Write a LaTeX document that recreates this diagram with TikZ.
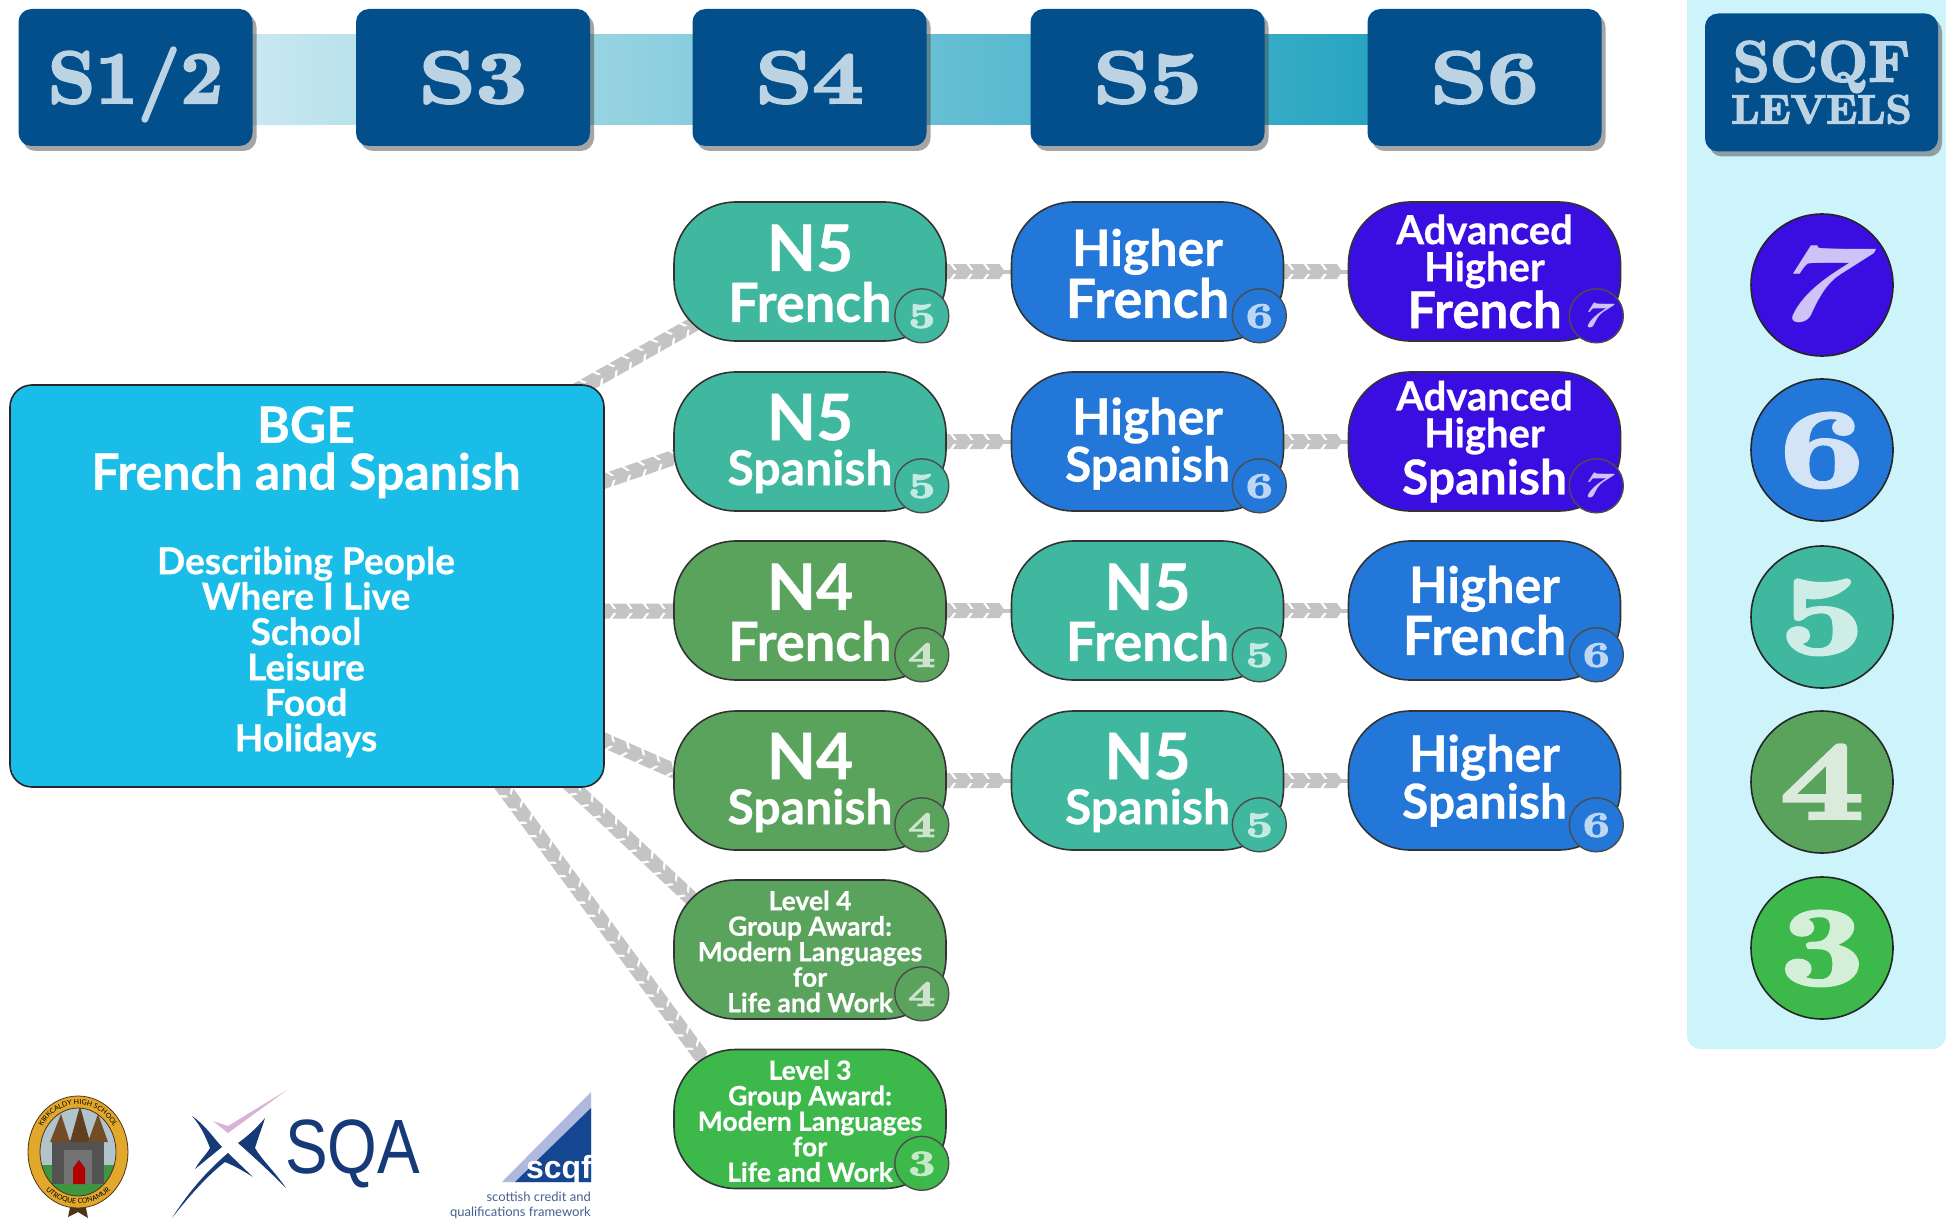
\documentclass[tikz,border=0pt]{standalone}
\usepackage{fontspec}
\usepackage{graphicx}
\setsansfont{Lato}[BoldFeatures={FakeBold=0.6}]
\newfontfamily\plainsans{Lato}
\newfontfamily\logofont{Liberation Sans}
\newfontfamily\fat{lmroman10-bold.otf}[FakeBold=3]
\newfontfamily\fatsl{lmroman10-bold.otf}[FakeSlant=0.35]
\usetikzlibrary{calc,shadows,decorations.markings,decorations.text}
\pgfdeclarelayer{background}
\pgfsetlayers{background,main}
\definecolor{hdr}{HTML}{024F8C}
\definecolor{hdrtxt}{HTML}{BCD3E4}
\definecolor{panel}{HTML}{CDF3FB}
\definecolor{bgec}{HTML}{1ABDE8}
\definecolor{lvseven}{HTML}{3A0EE0}
\definecolor{lvsix}{HTML}{2277D8}
\definecolor{lvfive}{HTML}{3FB89F}
\definecolor{lvfour}{HTML}{59A35C}
\definecolor{lvthree}{HTML}{3DB84A}
\definecolor{chevgrey}{HTML}{C4C4C4}
\definecolor{navy}{HTML}{163A78}
\definecolor{bandl}{HTML}{C8E8F0}
\definecolor{bandr}{HTML}{28A5C2}
\definecolor{gold}{HTML}{E2A82C}
\definecolor{lilac}{HTML}{AFB9DE}
\definecolor{scqfblue}{HTML}{144691}
\newcommand\tsz[2]{\fontsize{#1}{#2}\selectfont}
\newcommand\szz[2]{{\tsz{#1}{#1}#2}}
\newcommand\sz[2]{{\tsz{#1}{#1}\raisebox{-2pt}[\height][\depth]{#2}}}
\newcommand\hdwide[1]{\scalebox{1.2}[1]{#1}}
\newcommand\digwide[1]{\scalebox{1.3}[1]{#1}}
\newcommand\tightlines{\lineskiplimit-1000pt\relax}
\tikzset{
  x=1pt,y=-1pt,
  lh/.style={font={\sffamily\bfseries\fontsize{10}{#1}\selectfont\tightlines}},
  headbox/.style={fill=hdr,rounded corners=13,minimum width=234,minimum height=137,inner sep=0,
    drop shadow={shadow xshift=4pt,shadow yshift=-5pt,opacity=.5,fill=black!70},
    text=hdrtxt},
  header/.style={headbox,font=\fat\tsz{74}{74},text height=51pt,text depth=0pt},
  pill/.style={draw=black!80,line width=1.6pt,rounded corners=62,minimum width=272,minimum height=139,
    inner sep=0,text=white,align=center},
  badge/.style={circle,draw=black!70,line width=1.4pt,minimum size=54,inner sep=0,font=\fat\tsz{36}{36},text height=24pt,text depth=0pt},
  level/.style={circle,draw=black!85,line width=1.6pt,minimum size=142,inner sep=0,font=\fat\tsz{112}{112},text height=73pt,text depth=0pt},
  chev/.style={line width=4pt,chevgrey,postaction={decorate},
    decoration={markings,mark=between positions 0 and 1 step 16.5pt with
      {\fill[chevgrey] (-10.5,-7.5)--(3,-7.5)--(8.5,0)--(3,7.5)--(-10.5,7.5)--(-5,0)--cycle;}}},
}
\begin{document}
\begin{tikzpicture}
\useasboundingbox (0,0) rectangle (1946,1220);
% headers
\node[header] (s12) at (135.5,77.5) {S1/2};
\node[header] (s3) at (473,77.5) {\hdwide{S3}};
\node[header] (s4) at (809.5,77.5) {\hdwide{S4}};
\node[header] (s5) at (1147.5,77.5) {\hdwide{S5}};
\node[header] (s6) at (1484.5,77.5) {\hdwide{S6}};
% main box
\node[fill=bgec,draw=black!85,line width=1.6pt,rounded corners=22,minimum width=594,minimum height=402,inner sep=0] (bge) at (307,586) {};
\node[text=white,align=center,lh=35.4,inner sep=0] (bgetxt) at (306,581.8) {%
  \szz{50}{BGE}\\[11.6pt]\szz{50}{French and Spanish}\\[49pt]%
  \szz{37}{Describing People}\\\szz{37}{Where I Live}\\\szz{37}{School}\\\szz{37}{Leisure}\\\szz{37}{Food}\\\szz{37}{Holidays}};
% column 1
\node[pill,lh=51,fill=lvfive] (a1) at (810,271.5) {\sz{64}{N5}\\\sz{54}{French}};
\node[pill,lh=45,fill=lvfive] (a2) at (810,441.5) {\sz{64}{N5}\\\sz{48}{Spanish}};
\node[pill,lh=51,fill=lvfour] (a3) at (810,610.5) {\sz{64}{N4}\\\sz{54}{French}};
\node[pill,lh=45,fill=lvfour] (a4) at (810,780.5) {\sz{64}{N4}\\\sz{48}{Spanish}};
\node[pill,lh=25.5,fill=lvfour] (a5) at (810,949.5) {\sz{26.5}{Level 4}\\\sz{26.5}{Group Award:}\\\sz{26.5}{Modern Languages}\\\sz{26.5}{for}\\\sz{26.5}{Life and Work}};
\node[pill,lh=25.5,fill=lvthree] (a6) at (810,1119) {\sz{26.5}{Level 3}\\\sz{26.5}{Group Award:}\\\sz{26.5}{Modern Languages}\\\sz{26.5}{for}\\\sz{26.5}{Life and Work}};
% column 2
\node[pill,lh=52,fill=lvsix] (b1) at (1147.5,271.5) {\sz{50}{Higher}\\\sz{54}{French}};
\node[pill,lh=47,fill=lvsix] (b2) at (1147.5,441.5) {\sz{50}{Higher}\\\sz{48}{Spanish}};
\node[pill,lh=51,fill=lvfive] (b3) at (1147.5,610.5) {\sz{64}{N5}\\\sz{54}{French}};
\node[pill,lh=45,fill=lvfive] (b4) at (1147.5,780.5) {\sz{64}{N5}\\\sz{48}{Spanish}};
% column 3
\node[pill,lh=37,fill=lvseven] (c1) at (1484.5,271.5) {\szz{40}{Advanced}\\\szz{40}{Higher}\\[10pt]\szz{51}{French}};
\node[pill,lh=37,fill=lvseven] (c2) at (1484.5,441.5) {\szz{40}{Advanced}\\\szz{40}{Higher}\\[10pt]\szz{48}{Spanish}};
\node[pill,lh=52,fill=lvsix] (c3) at (1484.5,610.5) {\szz{50}{Higher}\\\szz{54}{French}};
\node[pill,lh=47,fill=lvsix] (c4) at (1484.5,780.5) {\szz{50}{Higher}\\\szz{48}{Spanish}};
% badges
\foreach \n/\c/\d in {a1/lvfive/5,a2/lvfive/5,a3/lvfour/4,a4/lvfour/4,a5/lvfour/4,a6/lvthree/3,
  b1/lvsix/6,b2/lvsix/6,b3/lvfive/5,b4/lvfive/5,c3/lvsix/6,c4/lvsix/6}
  \node[badge,fill=\c,text=\c!30!white] (badge\n) at ($(\n.south east)+(-25,-26)$) {\digwide{\d}};
\foreach \n in {c1,c2}
  \node[badge,fill=lvseven,text=lvseven!25!white,font=\fatsl\tsz{36}{36}] (badge\n) at ($(\n.south east)+(-25,-26)$) {\hspace*{-8pt}\digwide{7}};
% background items
\begin{pgfonlayer}{background}
\fill[white] (0,0) rectangle (1946,1220);
\fill[panel] (1687,0) [rounded corners=14] -- (1687,1049) -- (1946,1049) [sharp corners] -- (1946,0) -- cycle;
\shade[left color=bandl,right color=bandr] (252,35) rectangle (1368,125);
\coordinate (o1) at (565,397); \coordinate (i1) at (712,314);
\coordinate (o2) at (590,486); \coordinate (i2) at (690,452);
\coordinate (o3) at (590,611); \coordinate (i3) at (690,611);
\coordinate (o4) at (590,734); \coordinate (i4) at (690,778);
\coordinate (o5) at (560,775); \coordinate (i5) at (710,916);
\coordinate (o6) at (494,775); \coordinate (i6) at (715,1075);
\foreach \i in {1,...,6} \draw[chev] (o\i) -- (i\i);
\foreach \p/\q in {a1/b1,a2/b2,a3/b3,a4/b4,b1/c1,b2/c2,b3/c3,b4/c4}
  \draw[chev] (\p.east) -- (\q.west);
\end{pgfonlayer}
\node[headbox,minimum width=233,minimum height=138,align=center,font={\fat\fontsize{10}{42}\selectfont\tightlines}] (scqf) at (1821.5,82.5)
  {\szz{58}{SCQF}\\\szz{41}{LEVELS}};
\node[level,fill=lvseven,text=lvseven!25!white,font=\fatsl\tsz{112}{112}] (l7) at (1822,285) {\hspace*{-36pt}\digwide{7}};
\node[level,fill=lvsix,text=lvsix!20!white] (l6) at (1822,450) {\digwide{6}};
\node[level,fill=lvfive,text=lvfive!25!white] (l5) at (1822,617) {\digwide{5}};
\node[level,fill=lvfour,text=lvfour!22!white] (l4) at (1822,782) {\digwide{4}};
\node[level,fill=lvthree,text=lvthree!22!white] (l3) at (1822,948) {\digwide{3}};
% school crest
\fill[black!60!brown] (72,1198) -- (68,1217) -- (78,1212) -- (88,1218) -- (84,1198) -- cycle;
\draw[fill=gold,draw=black!60!brown,line width=.8pt] (78,1152) ellipse [x radius=50,y radius=56];
\begin{scope}
\clip (78,1152) ellipse [x radius=38,y radius=44];
\fill[black!10!cyan!15!lightgray] (20,1090) rectangle (130,1165);
\fill[green!45!black!75] (20,1165) rectangle (130,1210);
\fill[black!68] (52,1140) rectangle (104,1184);
\fill[black!55] (64,1150) rectangle (92,1184);
\fill[brown!60!black] (50,1142) -- (61,1114) -- (70,1142) -- cycle;
\fill[brown!50!black] (70,1142) -- (80,1106) -- (90,1142) -- cycle;
\fill[brown!60!black] (88,1142) -- (98,1114) -- (108,1142) -- cycle;
\fill[red!70!black] (73,1184) -- (73,1168) -- (79,1160) -- (85,1168) -- (85,1184) -- cycle;
\end{scope}
\draw[black!60!brown,line width=.8pt] (78,1152) ellipse [x radius=38,y radius=44];
\path[decorate,decoration={text along path,text align=center,
  text={|\plainsans\fontsize{7}{8}\selectfont|KIRKCALDY HIGH SCHOOL}}]
  (37,1152) .. controls (37,1089) and (119,1089) .. (119,1152);
\path[decorate,decoration={text along path,text align=center,
  text={|\plainsans\fontsize{7}{8}\selectfont|UTROQUE CONAMUR}}]
  (32,1152) .. controls (32,1221) and (124,1221) .. (124,1152);
% SQA logo
\fill[violet!30!white] (213,1121) -- (228,1126) -- (287,1090) -- (228,1133) -- cycle;
\fill[navy] (192,1116) .. controls (205,1125) and (212,1136) .. (222,1147) -- (195,1169) .. controls (200,1160) and (206,1155) .. (210,1148) .. controls (205,1135) and (200,1125) .. (192,1116) -- cycle;
\fill[navy] (265,1118) .. controls (255,1130) and (245,1138) .. (238,1143) .. controls (255,1158) and (270,1172) .. (286,1188) .. controls (275,1172) and (262,1160) .. (255,1148) .. controls (258,1138) and (262,1128) .. (265,1118) -- cycle;
\fill[navy] (172,1218) .. controls (190,1190) and (208,1170) .. (228,1153) -- (253,1177) .. controls (245,1172) and (235,1166) .. (225,1162) .. controls (208,1175) and (190,1195) .. (172,1218) -- cycle;
\node[anchor=base west,inner sep=0,text=navy,font=\logofont\tsz{77}{77}] (sqa) at (285,1173) {\scalebox{.83}[1]{SQA}};
% SCQF logo
\fill[lilac] (591,1092) -- (591,1182) -- (502,1182) -- cycle;
\fill[scqfblue] (591,1108) -- (591,1182) -- (515,1182) -- cycle;
\node[anchor=base east,inner sep=0,text=white,font=\logofont\bfseries\tsz{32}{32}] (scqflogo) at (592,1178) {scqf};
\node[anchor=north east,inner sep=0,align=right,text=navy!80,font=\plainsans\fontsize{13}{15}\selectfont] (scqfcap) at (591,1192) {scottish credit and\\qualifications framework};
\end{tikzpicture}
\end{document}
